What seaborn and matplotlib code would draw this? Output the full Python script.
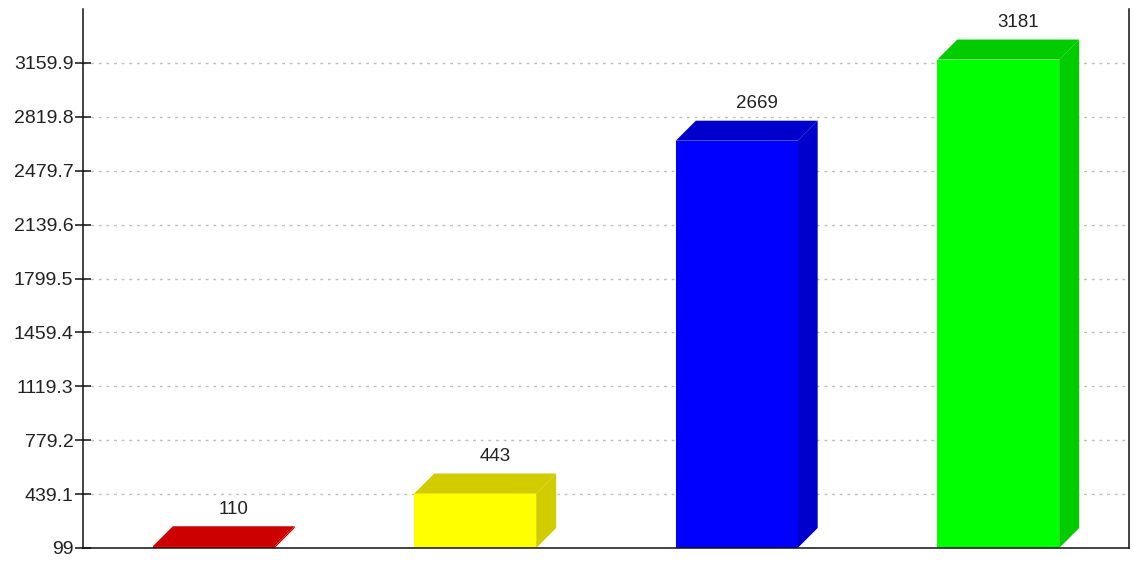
import numpy as np
import pandas as pd
import matplotlib
matplotlib.use("Agg")
import matplotlib.pyplot as plt
import seaborn as sns
from matplotlib.patches import Polygon

# datos del grafico
categorias = ["A", "B", "C", "D"]
valores = [110, 443, 2669, 3181]
colores_frente = ["#ff0000", "#ffff00", "#0000ff", "#00ff00"]
colores_lado = ["#cc0000", "#d0cc00", "#0000cc", "#00cc00"]
ticks_y = [99, 439.1, 779.2, 1119.3, 1459.4, 1799.5, 2139.6, 2479.7, 2819.8, 3159.9]
etiquetas_y = ["99", "439.1", "779.2", "1119.3", "1459.4", "1799.5",
               "2139.6", "2479.7", "2819.8", "3159.9"]
y_min, y_max = 99, 3500

sns.set_style("white")
plt.rcParams["font.family"] = ["Liberation Sans", "DejaVu Sans"]

df = pd.DataFrame({"cat": categorias, "valor": valores})

W, H = 1133, 562
fig = plt.figure(figsize=(W / 100, H / 100), dpi=100)
ax = fig.add_axes([83 / W, 14 / H, (1129 - 83) / W, (548 - 9) / H])

sns.barplot(data=df, x="cat", y="valor", hue="cat", palette=colores_frente,
            width=0.466, legend=False, ax=ax, saturation=1, linewidth=0)

ax.set_xlim(-0.5, len(categorias) - 0.5)
ax.set_ylim(y_min, y_max)

# profundidad 3D en pixeles -> unidades de datos
prof_px = 20
ax_w = (1129 - 83)
ax_h = (548 - 9)
dx = prof_px / ax_w * len(categorias)
dy = prof_px / ax_h * (y_max - y_min)

for i, p in enumerate(ax.patches):
    x0 = p.get_x()
    x1 = x0 + p.get_width()
    top = p.get_y() + p.get_height()
    base = y_min
    cara_sup = Polygon([(x0, top), (x1, top), (x1 + dx, top + dy), (x0 + dx, top + dy)],
                       closed=True, facecolor=colores_lado[i], edgecolor="none", zorder=2)
    cara_lado = Polygon([(x1, base), (x1 + dx, base + dy), (x1 + dx, top + dy), (x1, top)],
                        closed=True, facecolor=colores_lado[i], edgecolor="none", zorder=2)
    ax.add_patch(cara_sup)
    ax.add_patch(cara_lado)
    ax.annotate(str(valores[i]), xy=((x0 + x1) / 2, top), xytext=(14.4, 26.5),
                textcoords="offset points", ha="center", va="center",
                fontsize=13.5, color="#222222")

ax.set_yticks(ticks_y)
ax.set_yticklabels(etiquetas_y)
ax.yaxis.grid(True, linestyle=(0, (2, 3.5)), color="#bdbdbd", linewidth=1)
ax.xaxis.grid(False)
ax.set_axisbelow(True)

for lado in ["left", "bottom", "right"]:
    ax.spines[lado].set_visible(True)
    ax.spines[lado].set_color("#111111")
    ax.spines[lado].set_linewidth(1.1)
ax.spines["top"].set_visible(False)

ax.tick_params(axis="y", direction="inout", length=12, width=1.1, colors="#111111",
               labelsize=14, labelcolor="#222222", left=True, pad=1)
ax.tick_params(axis="x", bottom=False, labelbottom=False)
ax.set_xlabel("")
ax.set_ylabel("")

fig.savefig("out.png", dpi=100)
